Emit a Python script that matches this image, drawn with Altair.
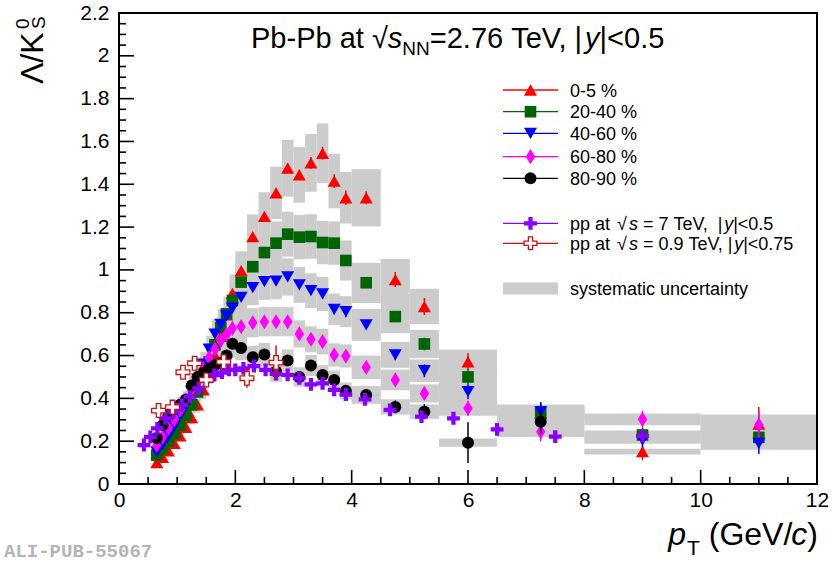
import altair as alt
import pandas as pd

FONT = "Liberation Sans"
W, H = 698, 471          # plot area
OX, OY = 119, 13         # plot origin on the page

# ---------------- data ----------------
pt_pb = [0.65, 0.75, 0.85, 0.95, 1.05, 1.15, 1.25, 1.35, 1.45, 1.55, 1.65, 1.75, 1.85, 1.95,
         2.1, 2.3, 2.5, 2.7, 2.9, 3.1, 3.3, 3.5, 3.7, 3.9,
         4.25, 4.75, 5.25, 6.0, 7.25, 9.0, 11.0]
bin_width_pb = [0.1, 0.1, 0.1, 0.1, 0.1, 0.1, 0.1, 0.1, 0.1, 0.1, 0.1, 0.1, 0.1, 0.1,
                0.2, 0.2, 0.2, 0.2, 0.2, 0.2, 0.2, 0.2, 0.2, 0.2,
                0.5, 0.5, 0.5, 1.0, 1.5, 2.0, 2.0]
sys_frac_pb = [0.10, 0.10, 0.10, 0.10, 0.10, 0.10, 0.10, 0.10, 0.10, 0.10, 0.10, 0.10, 0.10, 0.10,
               0.09, 0.09, 0.09, 0.09, 0.09, 0.09, 0.09, 0.09, 0.09, 0.09,
               0.10, 0.10, 0.10, 0.10, 0.10, 0.09, 0.16]

c0_5 = [0.10, 0.125, 0.155, 0.19, 0.225, 0.265, 0.31, 0.37, 0.44, 0.52, 0.60, 0.69, 0.79, 0.89,
        0.997, 1.155, 1.25, 1.36, 1.475, 1.444, 1.50, 1.545, 1.415, 1.337,
        1.337, 0.955, 0.829, 0.571, 0.33, 0.151, 0.28]
c0_5_stat = [0.004, 0.004, 0.005, 0.005, 0.005, 0.006, 0.006, 0.007, 0.008, 0.009, 0.010, 0.011, 0.012, 0.013,
             0.015, 0.016, 0.018, 0.020, 0.022, 0.024, 0.027, 0.030, 0.032, 0.034,
             0.030, 0.035, 0.040, 0.040, 0.050, 0.040, 0.080]

c20_40 = [0.135, 0.165, 0.20, 0.235, 0.275, 0.32, 0.37, 0.43, 0.50, 0.57, 0.65, 0.73, 0.795, 0.857,
          0.943, 1.015, 1.081, 1.125, 1.167, 1.153, 1.156, 1.128, 1.125, 1.044,
          0.94, 0.782, 0.654, 0.50, 0.33, 0.229, 0.218]
c20_40_stat = [0.004, 0.004, 0.004, 0.005, 0.005, 0.005, 0.006, 0.006, 0.007, 0.008, 0.009, 0.010, 0.011, 0.012,
               0.012, 0.013, 0.014, 0.015, 0.016, 0.018, 0.020, 0.022, 0.024, 0.026,
               0.020, 0.025, 0.030, 0.035, 0.045, 0.035, 0.050]

c40_60 = [0.15, 0.185, 0.225, 0.27, 0.32, 0.37, 0.43, 0.49, 0.56, 0.63, 0.70, 0.745, 0.785, 0.821,
          0.872, 0.917, 0.945, 0.948, 0.967, 0.930, 0.903, 0.888, 0.816, 0.805,
          0.743, 0.603, 0.529, 0.431, 0.338, 0.206, 0.19]
c40_60_stat = [0.004, 0.004, 0.004, 0.005, 0.005, 0.005, 0.006, 0.006, 0.007, 0.008, 0.009, 0.010, 0.011, 0.012,
               0.012, 0.013, 0.014, 0.015, 0.016, 0.018, 0.020, 0.022, 0.024, 0.026,
               0.020, 0.025, 0.030, 0.035, 0.045, 0.035, 0.050]

c60_80 = [0.18, 0.22, 0.26, 0.30, 0.345, 0.39, 0.44, 0.49, 0.54, 0.59, 0.63, 0.67, 0.70, 0.727,
          0.735, 0.753, 0.758, 0.758, 0.758, 0.701, 0.676, 0.665, 0.603, 0.598,
          0.545, 0.486, 0.423, 0.354, 0.244, 0.302, 0.276]
c60_80_stat = [0.004, 0.004, 0.004, 0.005, 0.005, 0.005, 0.006, 0.006, 0.007, 0.008, 0.009, 0.010, 0.011, 0.012,
               0.012, 0.013, 0.014, 0.015, 0.016, 0.018, 0.020, 0.022, 0.024, 0.026,
               0.020, 0.025, 0.030, 0.035, 0.045, 0.040, 0.060]

c80_90 = [0.215, 0.275, 0.32, 0.35, 0.37, 0.395, 0.46, 0.50, 0.52, 0.54, 0.555, 0.565, 0.60, 0.655,
          0.635, 0.592, 0.605, 0.525, 0.577, 0.50, 0.553, 0.509, 0.486, 0.435,
          0.416, 0.360, 0.338, 0.193, 0.291]
c80_90_stat = [0.006, 0.007, 0.008, 0.009, 0.010, 0.010, 0.011, 0.012, 0.013, 0.014, 0.015, 0.016, 0.017, 0.018,
               0.018, 0.019, 0.020, 0.021, 0.022, 0.023, 0.024, 0.025, 0.026, 0.027,
               0.025, 0.030, 0.035, 0.095, 0.055]

pt_pp7 = [0.43, 0.54, 0.66, 0.80, 0.94, 1.08, 1.22, 1.37, 1.51, 1.64, 1.77, 1.89, 2.0, 2.14, 2.32, 2.52,
          2.7, 2.9, 3.1, 3.3, 3.5, 3.7, 3.9, 4.23, 4.66, 5.2, 5.75, 6.5, 7.5, 9.0]
pp7 = [0.182, 0.22, 0.26, 0.307, 0.338, 0.369, 0.408, 0.447, 0.486, 0.509, 0.52, 0.533, 0.533, 0.54, 0.551, 0.533,
       0.514, 0.51, 0.494, 0.465, 0.47, 0.44, 0.418, 0.395, 0.346, 0.315, 0.307, 0.255, 0.221, 0.225]
pp7_stat = [0.003, 0.003, 0.003, 0.003, 0.003, 0.003, 0.003, 0.004, 0.004, 0.004, 0.004, 0.005, 0.005, 0.005, 0.005, 0.006,
            0.006, 0.006, 0.007, 0.007, 0.008, 0.008, 0.009, 0.010, 0.012, 0.014, 0.016, 0.018, 0.020, 0.025]

pt_pp09 = [0.68, 0.92, 1.10, 1.30, 1.50, 1.80, 2.2, 2.7]
pp09 = [0.343, 0.359, 0.522, 0.564, 0.486, 0.571, 0.494, 0.567]
pp09_stat = [0.020, 0.020, 0.030, 0.030, 0.035, 0.030, 0.045, 0.080]

x_major = [0, 2, 4, 6, 8, 10, 12]
x_minor = [0.5, 1, 1.5, 2.5, 3, 3.5, 4.5, 5, 5.5, 6.5, 7, 7.5, 8.5, 9, 9.5, 10.5, 11, 11.5]
y_major = [0, 0.2, 0.4, 0.6, 0.8, 1.0, 1.2, 1.4, 1.6, 1.8, 2.0, 2.2]
y_minor = [0.05, 0.1, 0.15, 0.25, 0.3, 0.35, 0.45, 0.5, 0.55, 0.65, 0.7, 0.75, 0.85, 0.9, 0.95,
           1.05, 1.1, 1.15, 1.25, 1.3, 1.35, 1.45, 1.5, 1.55, 1.65, 1.7, 1.75, 1.85, 1.9, 1.95,
           2.05, 2.1, 2.15]

# ---------------- styles ----------------
DIAMOND = "M0,-1L0.62,0L0,1L-0.62,0Z"
PLUS = ("M-1,-0.33L-0.33,-0.33L-0.33,-1L0.33,-1L0.33,-0.33L1,-0.33L1,0.33L0.33,0.33"
        "L0.33,1L-0.33,1L-0.33,0.33L-1,0.33Z")
GREY = "#cccccc"

series = [
    dict(label="0-5 %", vals=c0_5, stat=c0_5_stat, color="#ff0000", shape="triangle-up", size=170),
    dict(label="20-40 %", vals=c20_40, stat=c20_40_stat, color="#006400", shape="square", size=135),
    dict(label="40-60 %", vals=c40_60, stat=c40_60_stat, color="#0000ff", shape="triangle-down", size=170),
    dict(label="60-80 %", vals=c60_80, stat=c60_80_stat, color="#ff00ff", shape=DIAMOND, size=230),
    dict(label="80-90 %", vals=c80_90, stat=c80_90_stat, color="#000000", shape="circle", size=144),
]

xs = alt.Scale(domain=[0, 12], nice=False, zero=False)
ys = alt.Scale(domain=[0, 2.2], nice=False, zero=False)
AX = alt.Axis(values=x_major, ticks=False, tickSize=0, domain=False, grid=False, labelFont=FONT,
              labelFontSize=21, labelColor="black", labelPadding=5, labelFlush=False,
              labelOverlap=False, format="~g", title=None)
AY = alt.Axis(values=y_major, ticks=False, tickSize=0, domain=False, grid=False, labelFont=FONT,
              labelFontSize=21, labelColor="black", labelPadding=10, labelFlush=False,
              labelOverlap=False, format="~g", title=None)


def X(f):
    return alt.X(f, type="quantitative", scale=xs, axis=AX)


def Y(f):
    return alt.Y(f, type="quantitative", scale=ys, axis=AY)


layers = []

# systematic boxes
box_rows = []
for s in series:
    for p, w, f, v in zip(pt_pb, bin_width_pb, sys_frac_pb, s["vals"]):
        box_rows.append(dict(lo=p - w / 2, hi=p + w / 2, ylo=v * (1 - f), yhi=v * (1 + f)))
layers.append(alt.Chart(pd.DataFrame(box_rows)).mark_rect(color=GREY, opacity=1).encode(
    x=X("lo"), x2="hi", y=Y("ylo"), y2="yhi"))


def point_layers(pts, vals, stat, color, shape, size, fill=None, stroke_w=0):
    df = pd.DataFrame(dict(pt=pts[:len(vals)], v=vals, elo=[v - e for v, e in zip(vals, stat)],
                           ehi=[v + e for v, e in zip(vals, stat)]))
    err = alt.Chart(df).mark_rule(color=color, strokeWidth=1.5).encode(x=X("pt"), y=Y("elo"), y2="ehi")
    if fill is None:
        pt = alt.Chart(df).mark_point(shape=shape, size=size, filled=True, fill=color, opacity=1,
                                      strokeWidth=0).encode(x=X("pt"), y=Y("v"))
    else:
        pt = alt.Chart(df).mark_point(shape=shape, size=size, filled=True, fill=fill, stroke=color,
                                      strokeWidth=stroke_w, opacity=1).encode(x=X("pt"), y=Y("v"))
    return [err, pt]


for s in series:
    layers += point_layers(pt_pb, s["vals"], s["stat"], s["color"], s["shape"], s["size"])
layers += point_layers(pt_pp7, pp7, pp7_stat, "#8800ff", PLUS, 165)
layers += point_layers(pt_pp09, pp09, pp09_stat, "#cc1111", PLUS, 190, fill="white", stroke_w=1.3)

# frame and ticks
one = pd.DataFrame({"a": [0]})
layers.append(alt.Chart(one).mark_rect(fill=None, stroke="black", strokeWidth=2).encode(
    x=alt.value(0), x2=alt.value(W), y=alt.value(0), y2=alt.value(H)))
layers.append(alt.Chart(pd.DataFrame({"t": x_major})).mark_rule(color="black", strokeWidth=1.6).encode(
    x=X("t"), y=alt.value(H), y2=alt.value(H - 14)))
layers.append(alt.Chart(pd.DataFrame({"t": x_minor})).mark_rule(color="black", strokeWidth=1.6).encode(
    x=X("t"), y=alt.value(H), y2=alt.value(H - 7)))
layers.append(alt.Chart(pd.DataFrame({"t": y_major})).mark_rule(color="black", strokeWidth=1.6).encode(
    y=Y("t"), x=alt.value(0), x2=alt.value(15)))
layers.append(alt.Chart(pd.DataFrame({"t": y_minor})).mark_rule(color="black", strokeWidth=1.6).encode(
    y=Y("t"), x=alt.value(0), x2=alt.value(7)))

# ---------------- text helpers ----------------
NB = "\u00a0"
CW = {' ': 0.278, NB: 0.278, 'P': 0.667, 'b': 0.556, '-': 0.333, 'a': 0.556, 't': 0.278, '√': 0.549,
      's': 0.5, 'N': 0.722, '=': 0.584, '2': 0.556, '.': 0.278, '7': 0.556, '6': 0.556, 'T': 0.611,
      'e': 0.556, 'V': 0.667, ',': 0.278, '|': 0.26, 'y': 0.5, '<': 0.584, '0': 0.556, '5': 0.556,
      'p': 0.556, '9': 0.556, '(': 0.333, ')': 0.333, 'G': 0.778, '/': 0.278, 'c': 0.5, 'Λ': 0.667,
      'K': 0.667, 'S': 0.667, '%': 0.889, '4': 0.556, '8': 0.556, 'u': 0.556, 'n': 0.556, 'r': 0.333,
      'i': 0.222, 'm': 0.833, 'o': 0.556}


def tw(text, size):
    return sum(CW.get(ch, 0.556) for ch in text) * size


def text_layer(text, x, y, size, italic=False, align="left", angle=0, color="black", font=FONT,
               weight="normal"):
    kw = dict(text=text.replace(" ", NB), fontSize=size, font=font,
              fontStyle="italic" if italic else "normal",
              fontWeight=weight, align=align, baseline="alphabetic", color=color)
    if angle:
        kw["angle"] = angle
    return alt.Chart(one).mark_text(**kw).encode(x=alt.value(x - OX), y=alt.value(y - OY))


def pieces(parts, x0, base):
    """Lay text pieces side by side; leading/trailing blanks become offsets (Vega trims text)."""
    out = []
    x = x0
    for text, size, italic, dy, kern in parts:
        core = text.strip(" ")
        lead = len(text) - len(text.lstrip(" "))
        x += tw(" " * lead, size)
        out.append(text_layer(core, x, base + dy, size, italic))
        x += tw(text[lead:], size) + kern
    return out


# title
TS = 29
layers += pieces([("Pb-Pb at ", TS, False, 0, 0), ("√", TS, False, 0, 0), ("s", TS, True, 0, 0),
                  ("NN", 19, False, 7, 0), ("=2.76 TeV, |", TS, False, 0, -3), ("y", TS, True, 0, 0),
                  ("|<0.5", TS, False, 0, 0)], 251, 48)

# x title (right aligned at frame edge)
XS = 32
xt = [("p", XS, True, 0, 1), ("T", 21, False, 10, 0), (" (GeV/", XS, False, 0, -1), ("c", XS, True, 0, 0),
      (")", XS, False, 0, 0)]
total = sum(tw(t, s) + k for t, s, _, _, k in xt)
layers += pieces(xt, 818 - total, 545)

# y title (rotated)
layers.append(text_layer("Λ/K", 43, 84, 32, angle=270))
layers.append(text_layer("0", 29, 29, 19, angle=270))
layers.append(text_layer("S", 45, 29, 19, angle=270))

# legend
LFS = 18
LX0, LX1, LXM, LTX = 503, 558, 530.5, 570
rows = [90, 111.7, 133.3, 156.7, 178.3]
for s, ry in zip(series, rows):
    layers.append(alt.Chart(one).mark_rule(color=s["color"], strokeWidth=1.3).encode(
        x=alt.value(LX0 - OX), x2=alt.value(LX1 - OX), y=alt.value(ry - OY)))
    layers.append(alt.Chart(one).mark_point(shape=s["shape"], size=s["size"], filled=True, fill=s["color"],
                                            strokeWidth=0, opacity=1).encode(
        x=alt.value(LXM - OX), y=alt.value(ry - OY)))
    layers.append(text_layer(s["label"], LTX, ry + 6.5, LFS))

for ry, color, fill, sw in [(223.3, "#8800ff", "#8800ff", 0), (243.3, "#cc1111", "white", 1.3)]:
    layers.append(alt.Chart(one).mark_rule(color=color, strokeWidth=1.3).encode(
        x=alt.value(LX0 - OX), x2=alt.value(LX1 - OX), y=alt.value(ry - OY)))
    layers.append(alt.Chart(one).mark_point(shape=PLUS, size=165, filled=True, fill=fill, stroke=color,
                                            strokeWidth=sw, opacity=1).encode(
        x=alt.value(LXM - OX), y=alt.value(ry - OY)))
layers += pieces([("pp at ", LFS, False, 0, 2), ("√", LFS, False, 0, 2), ("s", LFS, True, 0, 0),
                  (" = 7 TeV,  |", LFS, False, 0, -2), ("y", LFS, True, 0, 0), ("|<0.5", LFS, False, 0, 0)],
                 LTX, 229.8)
layers += pieces([("pp at ", LFS, False, 0, 2), ("√", LFS, False, 0, 2), ("s", LFS, True, 0, 0),
                  (" = 0.9 TeV, |", LFS, False, 0, -2), ("y", LFS, True, 0, 0), ("|<0.75", LFS, False, 0, 0)],
                 LTX, 249.8)

layers.append(alt.Chart(one).mark_rect(color=GREY, opacity=1).encode(
    x=alt.value(LX0 - OX), x2=alt.value(LX1 - OX), y=alt.value(282.5 - OY), y2=alt.value(294.5 - OY)))
layers.append(text_layer("systematic uncertainty", LTX, 294.8, LFS))

# watermark
layers.append(text_layer("ALI-PUB-55067", 4, 557, 19, color="#b4b4b4", font="Liberation Mono",
                         weight="bold"))

chart = alt.layer(*layers).properties(
    width=W, height=H,
    autosize=alt.AutoSizeParams(type="none"),
    padding={"left": OX, "top": OY, "right": 835 - OX - W, "bottom": 564 - OY - H},
    background="white",
).configure_view(stroke=None)

chart.save("out.html", embed_options={"renderer": "svg", "actions": False})
